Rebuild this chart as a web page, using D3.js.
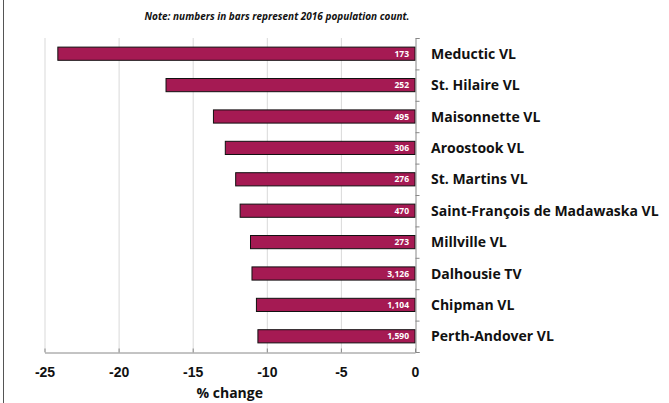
<!DOCTYPE html>
<html>
<head>
<meta charset="utf-8">
<script src="https://cdn.jsdelivr.net/npm/d3@7"></script>
<style>
  body { margin: 0; background: #fff; }
  svg { display: block; font-family: "Open Sans", sans-serif; }
</style>
</head>
<body>
<svg id="chart" width="669" height="403"></svg>
<script>
// villages, % change and 2016 population
const places = ["Meductic VL", "St. Hilaire VL", "Maisonnette VL", "Aroostook VL", "St. Martins VL",
  "Saint-François de Madawaska VL", "Millville VL", "Dalhousie TV", "Chipman VL", "Perth-Andover VL"];
const change = [-24.1, -16.8, -13.6, -12.8, -12.1, -11.8, -11.1, -11.0, -10.7, -10.6];
const population = ["173", "252", "495", "306", "276", "470", "273", "3,126", "1,104", "1,590"];
const xTicks = [-25, -20, -15, -10, -5, 0];

const svg = d3.select("#chart");
const plotLeft = 44.5, plotRight = 415, plotTop = 38, plotBottom = 352;

let x = d3.scaleLinear().domain([-25, 0]).range([plotLeft, plotRight]);
let y = d3.scaleBand().domain(places).range([plotTop, plotBottom]).paddingInner(0.58).paddingOuter(0.29);

// left frame edge
svg.append("line")
  .attr("x1", 3.5).attr("x2", 3.5).attr("y1", 0).attr("y2", 403)
  .attr("stroke", "#555").attr("stroke-width", 1);

// note
svg.append("text")
  .attr("x", 277).attr("y", 20)
  .attr("text-anchor", "middle")
  .attr("fill", "#111")
  .style("font-size", "10px").style("font-weight", "bold").style("font-style", "italic")
  .text("Note: numbers in bars represent 2016 population count.");

// vertical gridlines
svg.append("g")
  .selectAll("line")
  .data(xTicks.slice(0, -1))
  .enter()
  .append("line")
  .attr("x1", d => x(d) + 0.5).attr("x2", d => x(d) + 0.5)
  .attr("y1", plotTop).attr("y2", plotBottom)
  .attr("stroke", "#d9d9d9");

// bars
svg.append("g")
  .selectAll("rect")
  .data(places)
  .enter()
  .append("rect")
  .attr("x", (d, i) => x(change[i]))
  .attr("y", d => y(d))
  .attr("width", (d, i) => x(0) - x(change[i]))
  .attr("height", y.bandwidth())
  .attr("fill", "#a51a53")
  .attr("stroke", "#111")
  .attr("stroke-width", 1);

// population labels in bars
svg.append("g")
  .selectAll("text")
  .data(places)
  .enter()
  .append("text")
  .attr("x", x(0) - 6)
  .attr("y", d => y(d) + y.bandwidth() / 2 + 3)
  .attr("text-anchor", "end")
  .attr("fill", "#fff")
  .style("font-size", "8.5px").style("font-weight", "bold")
  .text((d, i) => population[i]);

// x axis
let xAxis = svg.append("g")
  .attr("transform", `translate(0,${plotBottom + 0.5})`)
  .call(d3.axisBottom(x).tickValues(xTicks).tickSizeInner(-4).tickSizeOuter(0).tickPadding(15).tickFormat(d3.format("d")));
xAxis.select(".domain").attr("stroke", "#888");
xAxis.selectAll(".tick line").attr("stroke", "#888");
xAxis.selectAll("text")
  .attr("fill", "#111")
  .style("font-size", "14px").style("font-weight", "bold")
  .text(d => d < 0 ? "-" + Math.abs(d) : d);

svg.append("text")
  .attr("x", x(-12.5)).attr("y", 398)
  .attr("text-anchor", "middle")
  .attr("fill", "#111")
  .style("font-size", "14px").style("font-weight", "bold")
  .text("% change");

// y axis on the right at zero, ticks at band boundaries
let yEdge = d3.scaleLinear().domain([0, places.length]).range([plotTop, plotBottom]);
let yAxis = svg.append("g")
  .attr("transform", `translate(${plotRight + 0.5},0)`)
  .call(d3.axisRight(yEdge).tickValues(d3.range(0, places.length + 1)).tickSize(4).tickFormat(""));
yAxis.select(".domain").attr("stroke", "#888");
yAxis.selectAll(".tick line").attr("stroke", "#888");

// category labels
svg.append("g")
  .selectAll("text")
  .data(places)
  .enter()
  .append("text")
  .attr("x", 431)
  .attr("y", d => y(d) + y.bandwidth() / 2 + 5)
  .attr("fill", "#111")
  .style("font-size", "14px").style("font-weight", "bold")
  .text(d => d);
</script>
</body>
</html>
